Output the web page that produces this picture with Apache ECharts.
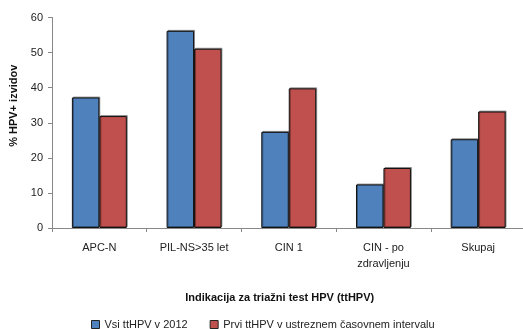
<!DOCTYPE html>
<html><head><meta charset="utf-8">
<script src="https://cdn.jsdelivr.net/npm/echarts@6/dist/echarts.min.js"></script>
<style>html,body{margin:0;padding:0;background:#fff}#c{width:523px;height:329px}</style>
</head><body><div id="c"></div>
<script>
const categories = ['APC-N', 'PIL-NS>35 let', 'CIN 1', 'CIN - po\nzdravljenju', 'Skupaj'];
const seriesNames = ['Vsi ttHPV v 2012', 'Prvi ttHPV v ustreznem časovnem intervalu'];
const vsiValues = [37.2, 56.2, 27.4, 12.4, 25.3];
const prviValues = [31.9, 51.1, 39.8, 17.1, 33.2];
const yTicks = { min: 0, max: 60, interval: 10 };
const xTitle = 'Indikacija za triažni test HPV (ttHPV)';
const yTitle = '% HPV+ izvidov';

const chart = echarts.init(document.getElementById('c'), null, {renderer: 'canvas'});
const font = 'Liberation Sans';
const barStyle = (c) => ({
  color: c, borderColor: '#111', borderWidth: 1,
  shadowColor: 'rgba(0,0,0,0.35)', shadowBlur: 0, shadowOffsetX: 1, shadowOffsetY: -1
});
chart.setOption({
  animation: false,
  textStyle: { fontFamily: font },
  grid: { left: 52, top: 17.5, bottom: 101, right: -2.5, outerBoundsMode: 'none', containLabel: false },
  legend: {
    top: 314, left: 86, itemWidth: 8, itemHeight: 8, itemGap: 22, icon: 'rect',
    textStyle: { fontFamily: font, fontSize: 11, color: '#222' },
    data: seriesNames.map((n) => ({ name: n, itemStyle: { borderColor: '#222', borderWidth: 1 } }))
  },
  xAxis: {
    type: 'category', data: categories,
    axisLine: { lineStyle: { color: '#888' } },
    axisTick: { show: true, length: 4, lineStyle: { color: '#888' } },
    axisLabel: { color: '#222', fontSize: 11, margin: 12, lineHeight: 16 },
    name: xTitle, nameLocation: 'middle', nameGap: 64,
    nameTextStyle: { fontWeight: 'bold', fontSize: 11, color: '#111', padding: [0, 18, 0, 0] }
  },
  yAxis: {
    type: 'value', min: yTicks.min, max: yTicks.max, interval: yTicks.interval,
    axisLine: { show: true, lineStyle: { color: '#888' } },
    axisTick: { show: true, length: 4, lineStyle: { color: '#888' } },
    splitLine: { show: false },
    axisLabel: { color: '#222', fontSize: 11, margin: 9 },
    name: yTitle, nameLocation: 'middle', nameGap: 33, nameRotate: 90,
    nameTextStyle: { fontWeight: 'bold', fontSize: 11, color: '#111', padding: [0, 0, 0, 34] }
  },
  series: [
    { name: seriesNames[0], type: 'bar', data: vsiValues, barGap: '0%', barCategoryGap: '42%', itemStyle: barStyle('#4F81BD') },
    { name: seriesNames[1], type: 'bar', data: prviValues, barGap: '0%', barCategoryGap: '42%', itemStyle: barStyle('#C0504D') }
  ]
});
</script></body></html>
